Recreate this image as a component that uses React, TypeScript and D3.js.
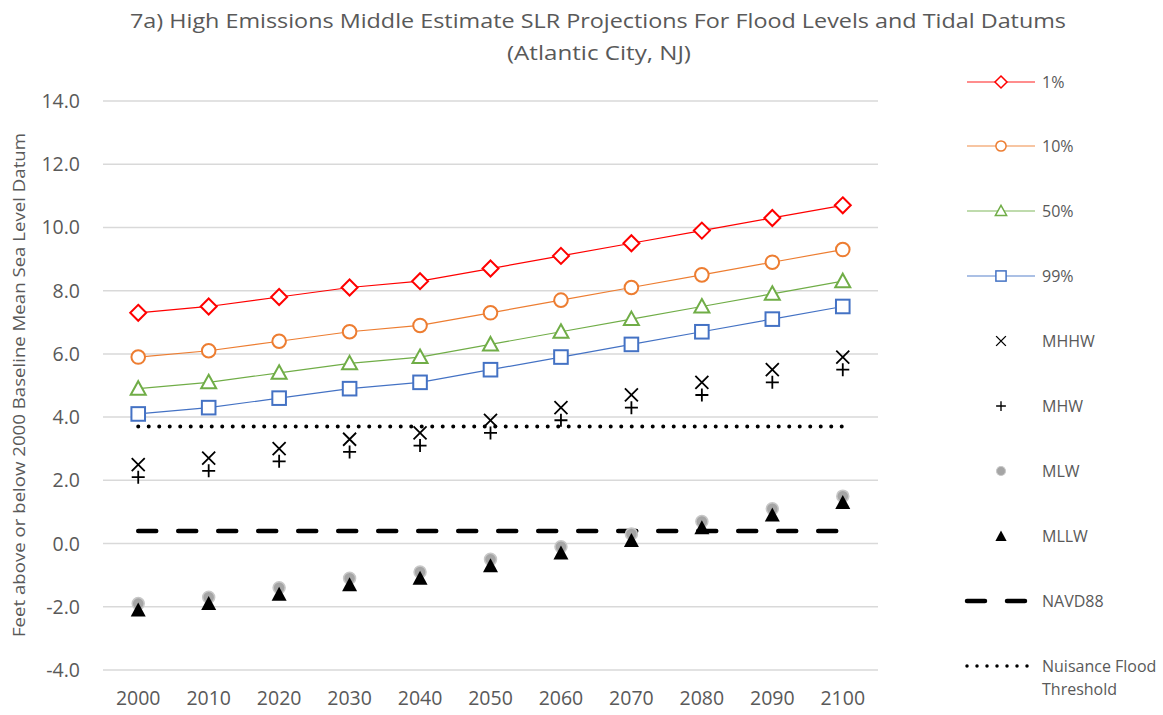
import React from "react";
import * as d3 from "d3";

const years = ["2000", "2010", "2020", "2030", "2040", "2050", "2060", "2070", "2080", "2090", "2100"];
const p1 = [7.3, 7.5, 7.8, 8.1, 8.3, 8.7, 9.1, 9.5, 9.9, 10.3, 10.7];
const p10 = [5.9, 6.1, 6.4, 6.7, 6.9, 7.3, 7.7, 8.1, 8.5, 8.9, 9.3];
const p50 = [4.9, 5.1, 5.4, 5.7, 5.9, 6.3, 6.7, 7.1, 7.5, 7.9, 8.3];
const p99 = [4.1, 4.3, 4.6, 4.9, 5.1, 5.5, 5.9, 6.3, 6.7, 7.1, 7.5];
const mhhw = [2.5, 2.7, 3.0, 3.3, 3.5, 3.9, 4.3, 4.7, 5.1, 5.5, 5.9];
const mhw = [2.1, 2.3, 2.6, 2.9, 3.1, 3.5, 3.9, 4.3, 4.7, 5.1, 5.5];
const mlw = [-1.9, -1.7, -1.4, -1.1, -0.9, -0.5, -0.1, 0.3, 0.7, 1.1, 1.5];
const mllw = [-2.1, -1.9, -1.6, -1.3, -1.1, -0.7, -0.3, 0.1, 0.5, 0.9, 1.3];
const navd88 = [0.4, 0.4, 0.4, 0.4, 0.4, 0.4, 0.4, 0.4, 0.4, 0.4, 0.4];
const nuisance = [3.7, 3.7, 3.7, 3.7, 3.7, 3.7, 3.7, 3.7, 3.7, 3.7, 3.7];
const yTicks = [-4, -2, 0, 2, 4, 6, 8, 10, 12, 14];

const W = 1163;
const H = 715;
const FONT = "'Open Sans', 'Noto Sans', sans-serif";
const TXT = "#595959";

const x = d3.scaleBand<string>().domain(years).range([103, 878]);
const y = d3.scaleLinear().domain([-4, 14]).range([670, 101]);
const cx = (i: number) => (x(years[i]) as number) + x.bandwidth() / 2;

type Mk = "diamond" | "circle" | "triangle" | "square" | "x" | "plus" | "dot" | "tri";

function Marker({ kind, px, py, color }: { kind: Mk; px: number; py: number; color: string }) {
  const s = 7;
  switch (kind) {
    case "diamond":
      return <path d={`M${px},${py - s - 1}L${px + s + 1},${py}L${px},${py + s + 1}L${px - s - 1},${py}Z`} fill="#fff" stroke={color} strokeWidth={2} />;
    case "circle":
      return <circle cx={px} cy={py} r={6.8} fill="#fff" stroke={color} strokeWidth={2} />;
    case "triangle":
      return <path d={`M${px},${py - 7.5}L${px + 7.5},${py + 6}L${px - 7.5},${py + 6}Z`} fill="#fff" stroke={color} strokeWidth={2} />;
    case "square":
      return <rect x={px - 6.8} y={py - 6.8} width={13.6} height={13.6} fill="#fff" stroke={color} strokeWidth={2} />;
    case "x":
      return <path d={`M${px - 6.5},${py - 6.5}L${px + 6.5},${py + 6.5}M${px + 6.5},${py - 6.5}L${px - 6.5},${py + 6.5}`} stroke={color} strokeWidth={1.8} fill="none" />;
    case "plus":
      return <path d={`M${px - 6.5},${py}L${px + 6.5},${py}M${px},${py - 6.5}L${px},${py + 6.5}`} stroke={color} strokeWidth={1.8} fill="none" />;
    case "dot":
      return <circle cx={px} cy={py} r={6} fill="#a5a5a5" stroke="#c8c8c8" strokeWidth={1.5} />;
    case "tri":
      return <path d={`M${px},${py - 7.5}L${px + 7.5},${py + 6.5}L${px - 7.5},${py + 6.5}Z`} fill="#000" />;
  }
  return null;
}

const lineSeries = [
  { name: "1%", data: p1, color: "#FF0000", mk: "diamond" as Mk },
  { name: "10%", data: p10, color: "#ED7D31", mk: "circle" as Mk },
  { name: "50%", data: p50, color: "#70AD47", mk: "triangle" as Mk },
  { name: "99%", data: p99, color: "#4472C4", mk: "square" as Mk },
];
const pointSeries = [
  { name: "MHHW", data: mhhw, color: "#000", mk: "x" as Mk },
  { name: "MHW", data: mhw, color: "#000", mk: "plus" as Mk },
  { name: "MLW", data: mlw, color: "#a5a5a5", mk: "dot" as Mk },
  { name: "MLLW", data: mllw, color: "#000", mk: "tri" as Mk },
];

export default function App() {
  const line = d3.line<number>().x((_, i) => cx(i)).y((d) => y(d));
  const legendY = [82, 146, 211, 276, 341, 406, 471, 536, 601, 666];
  const LF = 16;
  return (
    <svg width={W} height={H} style={{ position: "absolute", left: 0, top: 0, background: "#fff" }}>
      <rect width={W} height={H} fill="#fff" />
      <text x={598} y={28} textAnchor="middle" fontFamily={FONT} fontSize={20} fill={TXT} textLength={936} lengthAdjust="spacingAndGlyphs">
        7a) High Emissions Middle Estimate SLR Projections For Flood Levels and Tidal Datums
      </text>
      <text x={599} y={60} textAnchor="middle" fontFamily={FONT} fontSize={20} fill={TXT} textLength={184} lengthAdjust="spacingAndGlyphs">
        (Atlantic City, NJ)
      </text>
      {yTicks.map((t) => (
        <g key={t}>
          <line x1={103} x2={878} y1={y(t)} y2={y(t)} stroke="#d9d9d9" strokeWidth={1.5} />
          <text x={80} y={y(t) + 7} textAnchor="end" fontFamily={FONT} fontSize={19.5} fill={TXT}>
            {t.toFixed(1)}
          </text>
        </g>
      ))}
      {years.map((yr, i) => (
        <text key={yr} x={cx(i)} y={705} textAnchor="middle" fontFamily={FONT} fontSize={19.5} fill={TXT}>
          {yr}
        </text>
      ))}
      <text
        transform={`translate(25,${385}) rotate(-90)`}
        textAnchor="middle"
        fontFamily={FONT}
        fontSize={16}
        fill={TXT}
        textLength={504}
        lengthAdjust="spacingAndGlyphs"
      >
        Feet above or below 2000 Baseline Mean Sea Level Datum
      </text>

      <path d={line(navd88) || ""} fill="none" stroke="#000" strokeWidth={4.5} strokeDasharray="18 22" strokeLinecap="round" />
      <path d={line(nuisance) || ""} fill="none" stroke="#000" strokeWidth={4} strokeDasharray="0 10.5" strokeLinecap="round" />

      {lineSeries.map((s) => (
        <g key={s.name}>
          <path d={line(s.data) || ""} fill="none" stroke={s.color} strokeWidth={1.2} />
          {s.data.map((v, i) => (
            <Marker key={i} kind={s.mk} px={cx(i)} py={y(v)} color={s.color} />
          ))}
        </g>
      ))}
      {pointSeries.map((s) => (
        <g key={s.name}>
          {s.data.map((v, i) => (
            <Marker key={i} kind={s.mk} px={cx(i)} py={y(v)} color={s.color} />
          ))}
        </g>
      ))}

      {lineSeries.map((s, k) => (
        <g key={s.name}>
          <line x1={967} x2={1035} y1={legendY[k]} y2={legendY[k]} stroke={s.color} strokeOpacity={0.6} strokeWidth={1.5} />
          <g transform={`translate(${1001},${legendY[k]}) scale(0.75) translate(${-1001},${-legendY[k]})`}>
            <Marker kind={s.mk} px={1001} py={legendY[k]} color={s.color} />
          </g>
          <text x={1042} y={legendY[k] + 6} fontFamily={FONT} fontSize={LF} fill={TXT}>{s.name}</text>
        </g>
      ))}
      {pointSeries.map((s, k) => {
        const ly = legendY[k + 4];
        return (
          <g key={s.name}>
            <g transform={`translate(${1001},${ly}) scale(0.75) translate(${-1001},${-ly})`}>
              <Marker kind={s.mk} px={1001} py={ly} color={s.color} />
            </g>
            <text x={1042} y={ly + 6} fontFamily={FONT} fontSize={LF} fill={TXT}>{s.name}</text>
          </g>
        );
      })}
      <line x1={967} x2={1035} y1={legendY[8]} y2={legendY[8]} stroke="#000" strokeWidth={4.5} strokeDasharray="18 22" strokeLinecap="round" />
      <text x={1042} y={legendY[8] + 6} fontFamily={FONT} fontSize={LF} fill={TXT}>NAVD88</text>
      <line x1={967} x2={1035} y1={legendY[9]} y2={legendY[9]} stroke="#000" strokeWidth={3.5} strokeDasharray="0 10" strokeLinecap="round" />
      <text x={1042} y={legendY[9] + 6} fontFamily={FONT} fontSize={LF} fill={TXT}>Nuisance Flood</text>
      <text x={1042} y={legendY[9] + 29} fontFamily={FONT} fontSize={LF} fill={TXT}>Threshold</text>
    </svg>
  );
}
